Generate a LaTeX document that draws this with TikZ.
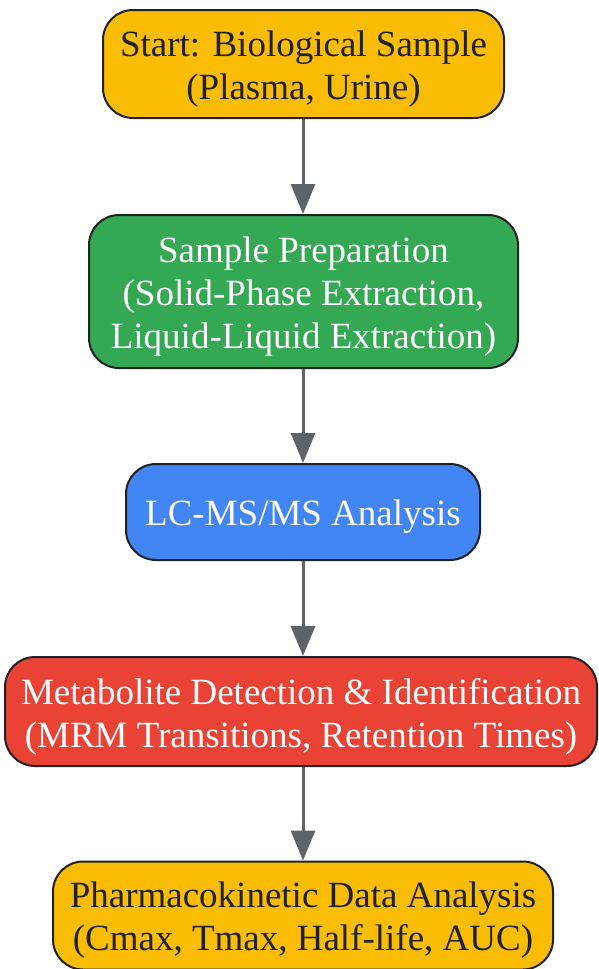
\documentclass[tikz,border=0pt]{standalone}
\usepackage{fontspec}
\setmainfont{Liberation Serif}
\usetikzlibrary{arrows.meta}
\definecolor{gyellow}{HTML}{FBBC04}
\definecolor{ggreen}{HTML}{34A853}
\definecolor{gblue}{HTML}{4285F4}
\definecolor{gred}{HTML}{EA4335}
\definecolor{gdark}{HTML}{202124}
\definecolor{ggray}{HTML}{5F6368}
\tikzset{
  box/.style={draw=gdark, line width=2pt, rounded corners=30pt, inner sep=0pt},
  label text/.style={align=center, inner sep=0pt, yshift=-5pt, font=\fontsize{37}{43}\selectfont},
  darktext/.style={label text, text=gdark},
  lighttext/.style={label text, text=white},
  flow/.style={draw=ggray, line width=3pt, -{Triangle[length=30pt,width=24pt]}}
}
\begin{document}
\begin{tikzpicture}[x=1pt,y=1pt]
\useasboundingbox (0,0) rectangle (599,-969);
\node[box, fill=gyellow, minimum width=401pt, minimum height=108pt] (n1) at (303.5,-64) {};
\node[darktext] (t1) at (n1.center) {Start: Biological Sample\\(Plasma, Urine)};
\node[box, fill=ggreen, minimum width=429pt, minimum height=153pt] (n2) at (303.5,-291.5) {};
\node[lighttext] (t2) at (n2.center) {Sample Preparation\\(Solid-Phase Extraction,\\Liquid-Liquid Extraction)};
\node[box, fill=gblue, minimum width=354pt, minimum height=96pt] (n3) at (303,-512) {};
\node[lighttext] (t3) at (n3.center) {LC-MS/MS Analysis};
\node[box, fill=gred, minimum width=592pt, minimum height=109pt] (n4) at (301,-711.5) {};
\node[lighttext] (t4) at (n4.center) {Metabolite Detection \& Identification\\(MRM Transitions, Retention Times)};
\node[box, fill=gyellow, minimum width=500pt, minimum height=108pt] (n5) at (303,-915.5) {};
\node[darktext] (t5) at (n5.center) {Pharmacokinetic Data Analysis\\(Cmax, Tmax, Half-life, AUC)};
\draw[flow] (n1.south -| 303,0) -- (n2.north -| 303,0);
\draw[flow] (n2.south -| 303,0) -- (n3.north -| 303,0);
\draw[flow] (n3.south -| 303,0) -- (n4.north -| 303,0);
\draw[flow] (n4.south -| 303,0) -- (n5.north -| 303,0);
\end{tikzpicture}
\end{document}
